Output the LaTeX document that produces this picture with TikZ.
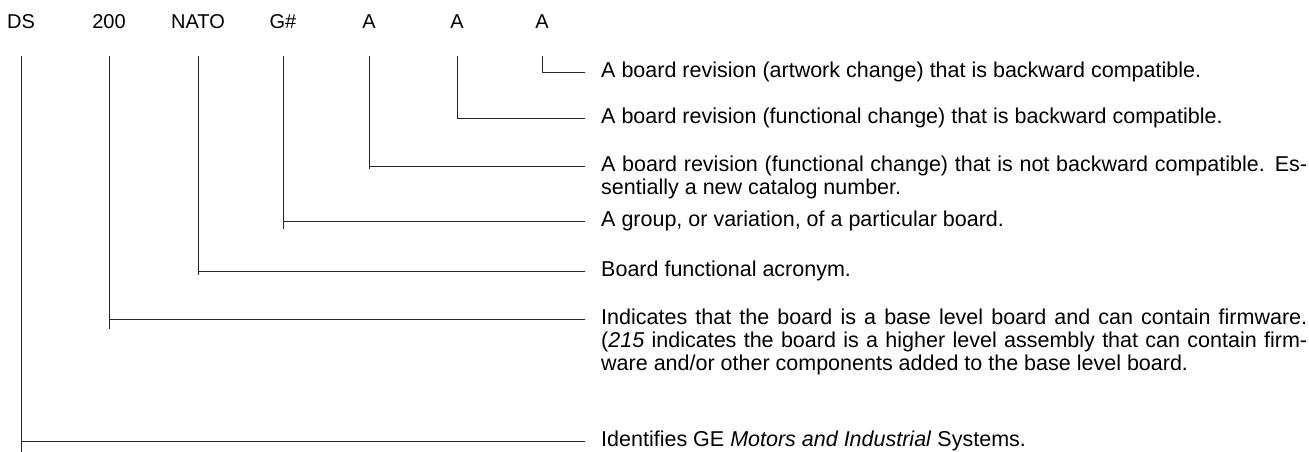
\documentclass[tikz,border=0pt]{standalone}
\usepackage{fontspec}
\setmainfont{Liberation Sans}
\usetikzlibrary{positioning}
\begin{document}
\begin{tikzpicture}[x=1pt,y=-1pt,
    field/.style={font=\fontsize{20}{24}\selectfont, inner sep=0pt},
    meaning/.style={font=\fontsize{21.5}{23}\selectfont, text width=706pt, align=justify, anchor=base west, inner sep=0pt},
    lead/.style={line width=0.8pt, draw=black!85}]
  \useasboundingbox (0,0) rectangle (1309,452);

  % the fields of the catalog number
  \node[field] (ds) at (21,22) {DS};
  \node[field] (num) at (109,22) {200};
  \node[field] (nato) at (198,22) {NATO};
  \node[field] (grp) at (283,22) {G\#};
  \node[field] (revA) at (369,22) {A};
  \node[field] (revB) at (457,22) {A};
  \node[field] (revC) at (542,22) {A};

  % what each field means
  \node[meaning] (txtC) at (601,77.5) {A board revision (artwork change) that is backward compatible.};
  \node[meaning] (txtB) at (601,123.5) {A board revision (functional change) that is backward compatible.};
  \node[meaning] (txtA) at (601,171.5) {A board revision (functional change) that is not backward compatible. Es-\linebreak sentially a new catalog number.};
  \node[meaning] (txtgrp) at (601,226.5) {A group, or variation, of a particular board.};
  \node[meaning] (txtnato) at (601,276.5) {Board functional acronym.};
  \node[meaning] (txtnum) at (601,324.5) {Indicates that the board is a base level board and can contain firmware.\linebreak (\textit{215} indicates the board is a higher level assembly that can contain firm-\linebreak ware and/or other components added to the base level board.};
  \node[meaning] (txtds) at (601,446.5) {Identifies GE \textit{Motors and Industrial} Systems.};

  % leader lines
  \draw[lead] (revC |- 0,56) |- ([xshift=-16pt,yshift=5.5pt]txtC.base west);
  \draw[lead] (revB |- 0,56) |- ([xshift=-16pt,yshift=5.5pt]txtB.base west);
  \draw[lead] (revA |- 0,56) -- (revA |- 0,169);
  \draw[lead] ([yshift=5.5pt]revA |- txtA.base) -- ([xshift=-16pt,yshift=5.5pt]txtA.base west);
  \draw[lead] (grp |- 0,56) -- (grp |- 0,229);
  \draw[lead] ([yshift=5.5pt]grp |- txtgrp.base) -- ([xshift=-16pt,yshift=5.5pt]txtgrp.base west);
  \draw[lead] (nato |- 0,56) -- (nato |- 0,275);
  \draw[lead] ([yshift=5.5pt]nato |- txtnato.base) -- ([xshift=-16pt,yshift=5.5pt]txtnato.base west);
  \draw[lead] (num |- 0,56) -- (num |- 0,329);
  \draw[lead] ([yshift=5.5pt]num |- txtnum.base) -- ([xshift=-16pt,yshift=5.5pt]txtnum.base west);
  \draw[lead] (ds |- 0,56) -- (ds |- 0,452);
  \draw[lead] ([yshift=5.5pt]ds |- txtds.base) -- ([xshift=-16pt,yshift=5.5pt]txtds.base west);
\end{tikzpicture}
\end{document}
